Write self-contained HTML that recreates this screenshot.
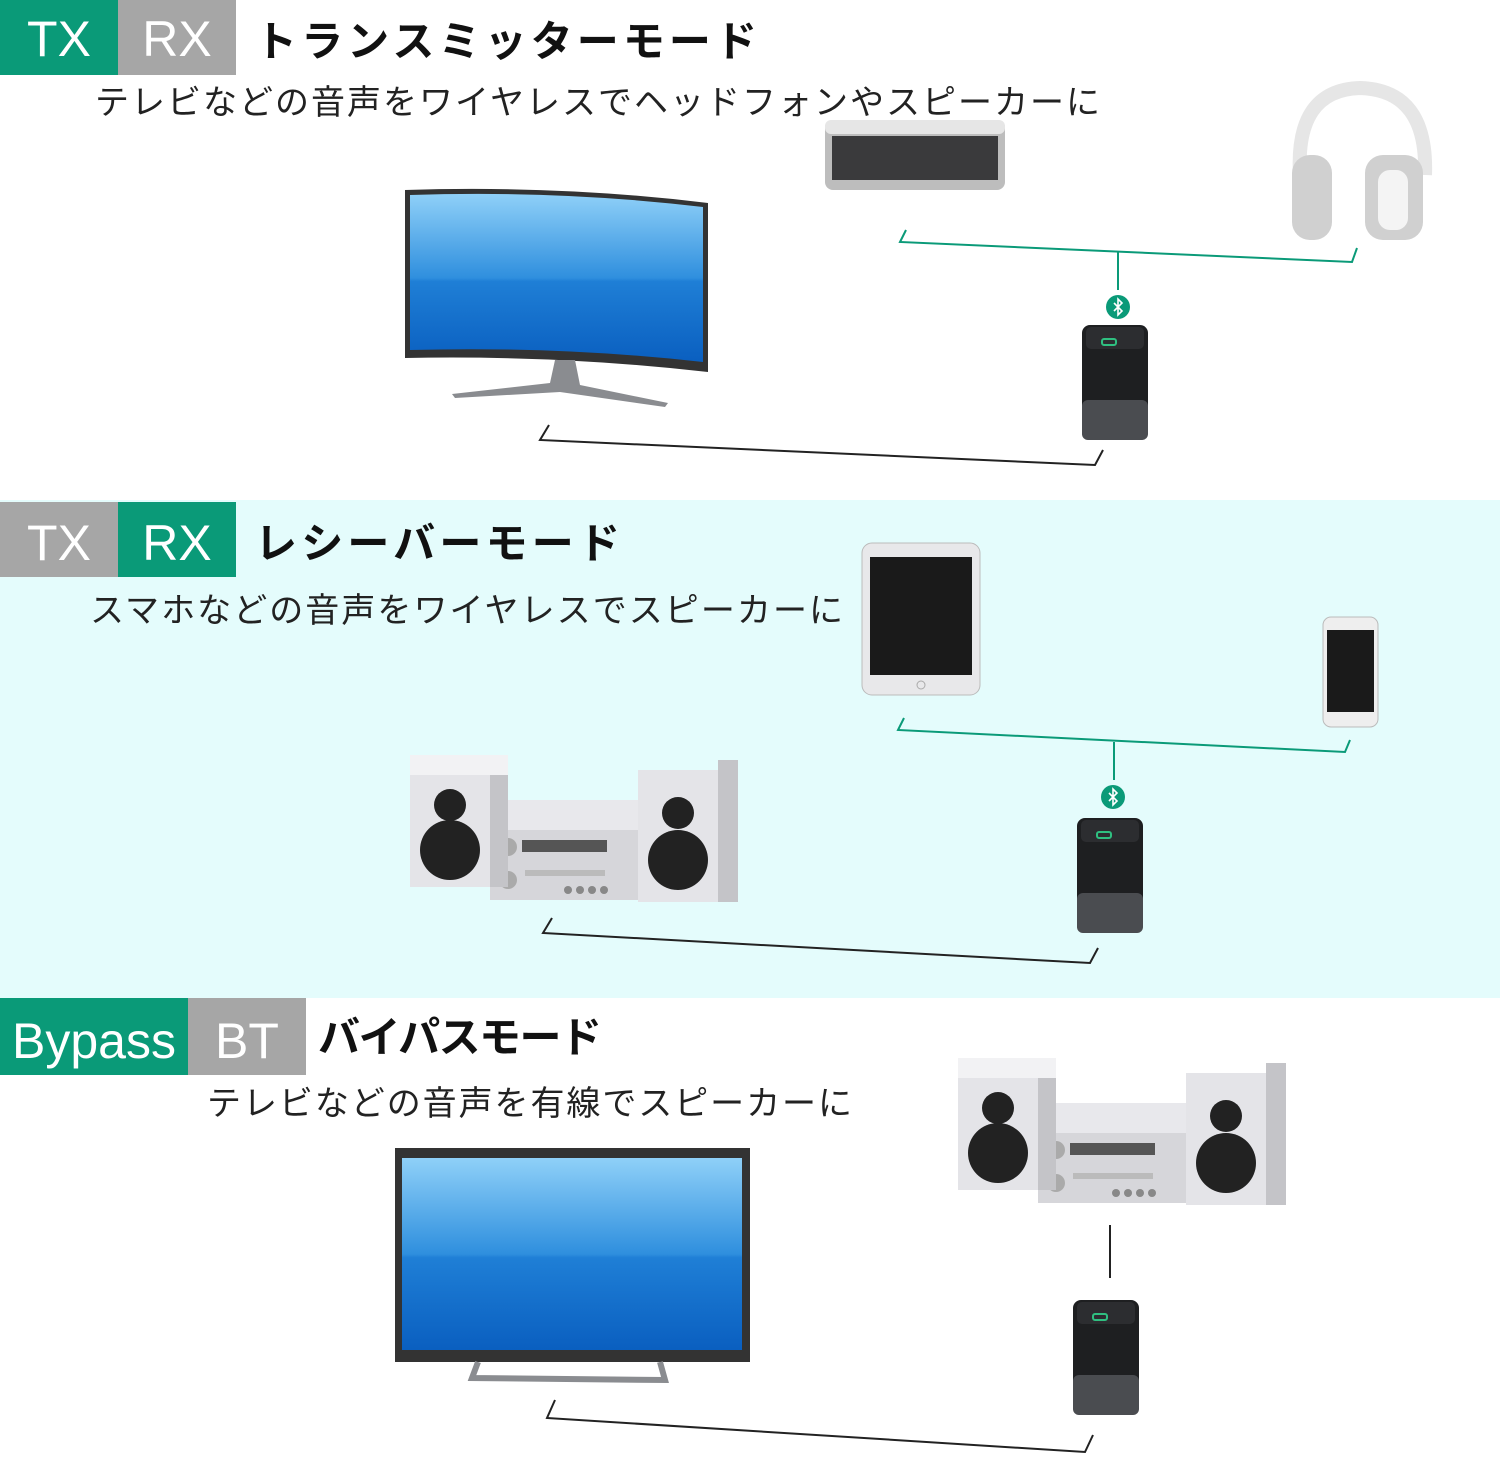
<!DOCTYPE html>
<html><head><meta charset="utf-8"><style>
html,body{margin:0;padding:0;width:1500px;height:1458px;overflow:hidden;background:#fff}
svg{display:block}
text{font-family:"Liberation Sans","Noto Sans CJK JP",sans-serif}
</style></head><body>
<svg width="1500" height="1458" viewBox="0 0 1500 1458" xmlns="http://www.w3.org/2000/svg">
<defs>
<linearGradient id="scr" x1="0" y1="0" x2="0" y2="1">
<stop offset="0" stop-color="#8fd0f8"/><stop offset="0.5" stop-color="#2f8fde"/><stop offset="0.52" stop-color="#1f7fd6"/><stop offset="1" stop-color="#0a5fc0"/></linearGradient>
<g id="dev">
<rect x="0" y="0" width="66" height="115" rx="8" fill="#1e1f21"/>
<rect x="0" y="75" width="66" height="40" rx="6" fill="#4a4c50"/>
<rect x="4" y="2" width="58" height="22" rx="5" fill="#2c2d30"/>
<rect x="20" y="14" width="14" height="6" rx="2" fill="none" stroke="#2fbf80" stroke-width="2"/>
</g>
<g id="bt"><circle r="12" fill="#0a9a78"/><path d="M-4,-4 L4,4 L0,8 L0,-8 L4,-4 L-4,4" fill="none" stroke="#fff" stroke-width="1.6"/></g>
<g id="hifi">
<rect x="80" y="55" width="148" height="100" fill="#d6d6da"/>
<rect x="80" y="55" width="148" height="30" fill="#e8e8ec"/>
<rect x="112" y="95" width="85" height="12" fill="#555"/>
<circle cx="98" cy="102" r="9" fill="#aaa"/><circle cx="98" cy="135" r="9" fill="#aaa"/>
<rect x="115" y="125" width="80" height="6" fill="#bbb"/>
<circle cx="158" cy="145" r="4" fill="#888"/><circle cx="170" cy="145" r="4" fill="#888"/><circle cx="182" cy="145" r="4" fill="#888"/><circle cx="194" cy="145" r="4" fill="#888"/>
<rect x="0" y="30" width="80" height="112" fill="#e4e4e8"/><rect x="80" y="20" width="18" height="122" fill="#c4c4c8"/>
<rect x="0" y="10" width="98" height="20" fill="#f2f2f4"/>
<circle cx="40" cy="60" r="16" fill="#222"/><circle cx="40" cy="105" r="30" fill="#222"/>
<rect x="228" y="25" width="80" height="132" fill="#e4e4e8"/><rect x="308" y="15" width="20" height="142" fill="#c4c4c8"/>
<circle cx="268" cy="68" r="16" fill="#222"/><circle cx="268" cy="115" r="30" fill="#222"/>
</g>
</defs>
<rect x="0" y="500" width="1500" height="498" fill="#e4fcfc"/>
<rect x="0" y="0" width="118" height="75" fill="#0a9a78"/><rect x="118" y="0" width="118" height="75" fill="#a6a6a6"/>
<text x="59" y="56" font-size="50" fill="#fff" text-anchor="middle">TX</text>
<text x="177" y="56" font-size="50" fill="#fff" text-anchor="middle">RX</text>
<text x="255" y="56" font-size="42" font-weight="bold" fill="#111" textLength="502" lengthAdjust="spacing">トランスミッターモード</text>
<text x="95" y="114" font-size="34" fill="#222" textLength="1005" lengthAdjust="spacing">テレビなどの音声をワイヤレスでヘッドフォンやスピーカーに</text>

<rect x="0" y="502" width="118" height="75" fill="#a6a6a6"/><rect x="118" y="502" width="118" height="75" fill="#0a9a78"/>
<text x="59" y="560" font-size="50" fill="#fff" text-anchor="middle">TX</text>
<text x="177" y="560" font-size="50" fill="#fff" text-anchor="middle">RX</text>
<text x="255" y="558" font-size="42" font-weight="bold" fill="#111" textLength="365" lengthAdjust="spacing">レシーバーモード</text>
<text x="90" y="622" font-size="34" fill="#222" textLength="753" lengthAdjust="spacing">スマホなどの音声をワイヤレスでスピーカーに</text>

<rect x="0" y="998" width="188" height="77" fill="#0a9a78"/><rect x="188" y="998" width="118" height="77" fill="#a6a6a6"/>
<text x="94" y="1058" font-size="50" fill="#fff" text-anchor="middle">Bypass</text>
<text x="247" y="1058" font-size="50" fill="#fff" text-anchor="middle">BT</text>
<text x="318" y="1052" font-size="42" font-weight="bold" fill="#111" textLength="284" lengthAdjust="spacing">バイパスモード</text>
<text x="207" y="1115" font-size="34" fill="#222" textLength="645" lengthAdjust="spacing">テレビなどの音声を有線でスピーカーに</text>

<path d="M405,190 Q560,185 708,203 L708,372 Q560,355 405,358 Z" fill="#333"/>
<path d="M410,195 Q560,190 703,207 L703,362 Q560,346 410,350 Z" fill="url(#scr)"/>
<path d="M555,360 L575,360 L580,385 L668,403 L665,407 L560,392 L455,398 L452,394 L550,383 Z" fill="#8a8c90"/>
<rect x="825" y="120" width="180" height="70" rx="8" fill="#bdbdbd"/>
<rect x="825" y="120" width="180" height="14" rx="6" fill="#e6e6e6"/>
<rect x="832" y="136" width="166" height="44" fill="#3a3a3c"/>
<path d="M1300,175 Q1295,90 1360,88 Q1428,90 1425,175" fill="none" stroke="#e6e6e6" stroke-width="14"/>
<rect x="1292" y="155" width="40" height="85" rx="18" fill="#d0d0d0"/>
<rect x="1365" y="155" width="58" height="85" rx="18" fill="#d0d0d0"/>
<rect x="1378" y="170" width="30" height="60" rx="12" fill="#f4f4f4"/>
<g fill="none" stroke="#0a9a78" stroke-width="2">
<path d="M906,230 L900,242 L1352,262 L1357,248"/><path d="M1118,252 L1118,290"/>
<path d="M904,718 L898,730 L1345,752 L1350,740"/><path d="M1114,742 L1114,780"/>
</g>
<use href="#bt" x="1118" y="307"/>
<use href="#dev" x="1082" y="325"/>
<g fill="none" stroke="#222" stroke-width="2">
<path d="M549,425 L540,440 L1095,465 L1103,450"/>
<path d="M552,918 L543,933 L1090,963 L1098,948"/>
<path d="M555,1400 L547,1418 L1085,1452 L1093,1435"/>
<path d="M1110,1225 L1110,1278"/>
</g>
<rect x="862" y="543" width="118" height="152" rx="10" fill="#e8e8ea" stroke="#bbb"/>
<rect x="870" y="557" width="102" height="118" fill="#1a1a1a"/>
<circle cx="921" cy="685" r="4" fill="none" stroke="#aaa"/>
<rect x="1323" y="617" width="55" height="110" rx="8" fill="#eee" stroke="#bbb"/>
<rect x="1327" y="630" width="47" height="82" fill="#1a1a1a"/>
<use href="#bt" x="1113" y="797"/>
<use href="#dev" x="1077" y="818"/>
<use href="#hifi" x="410" y="745"/>
<rect x="395" y="1148" width="355" height="214" fill="#333"/>
<rect x="402" y="1158" width="340" height="192" fill="url(#scr)"/>
<path d="M478,1362 L472,1378 L665,1380 L660,1362" fill="none" stroke="#8a8c90" stroke-width="6"/>
<use href="#hifi" x="958" y="1048"/>
<use href="#dev" x="1073" y="1300"/>
</svg>
</body></html>
